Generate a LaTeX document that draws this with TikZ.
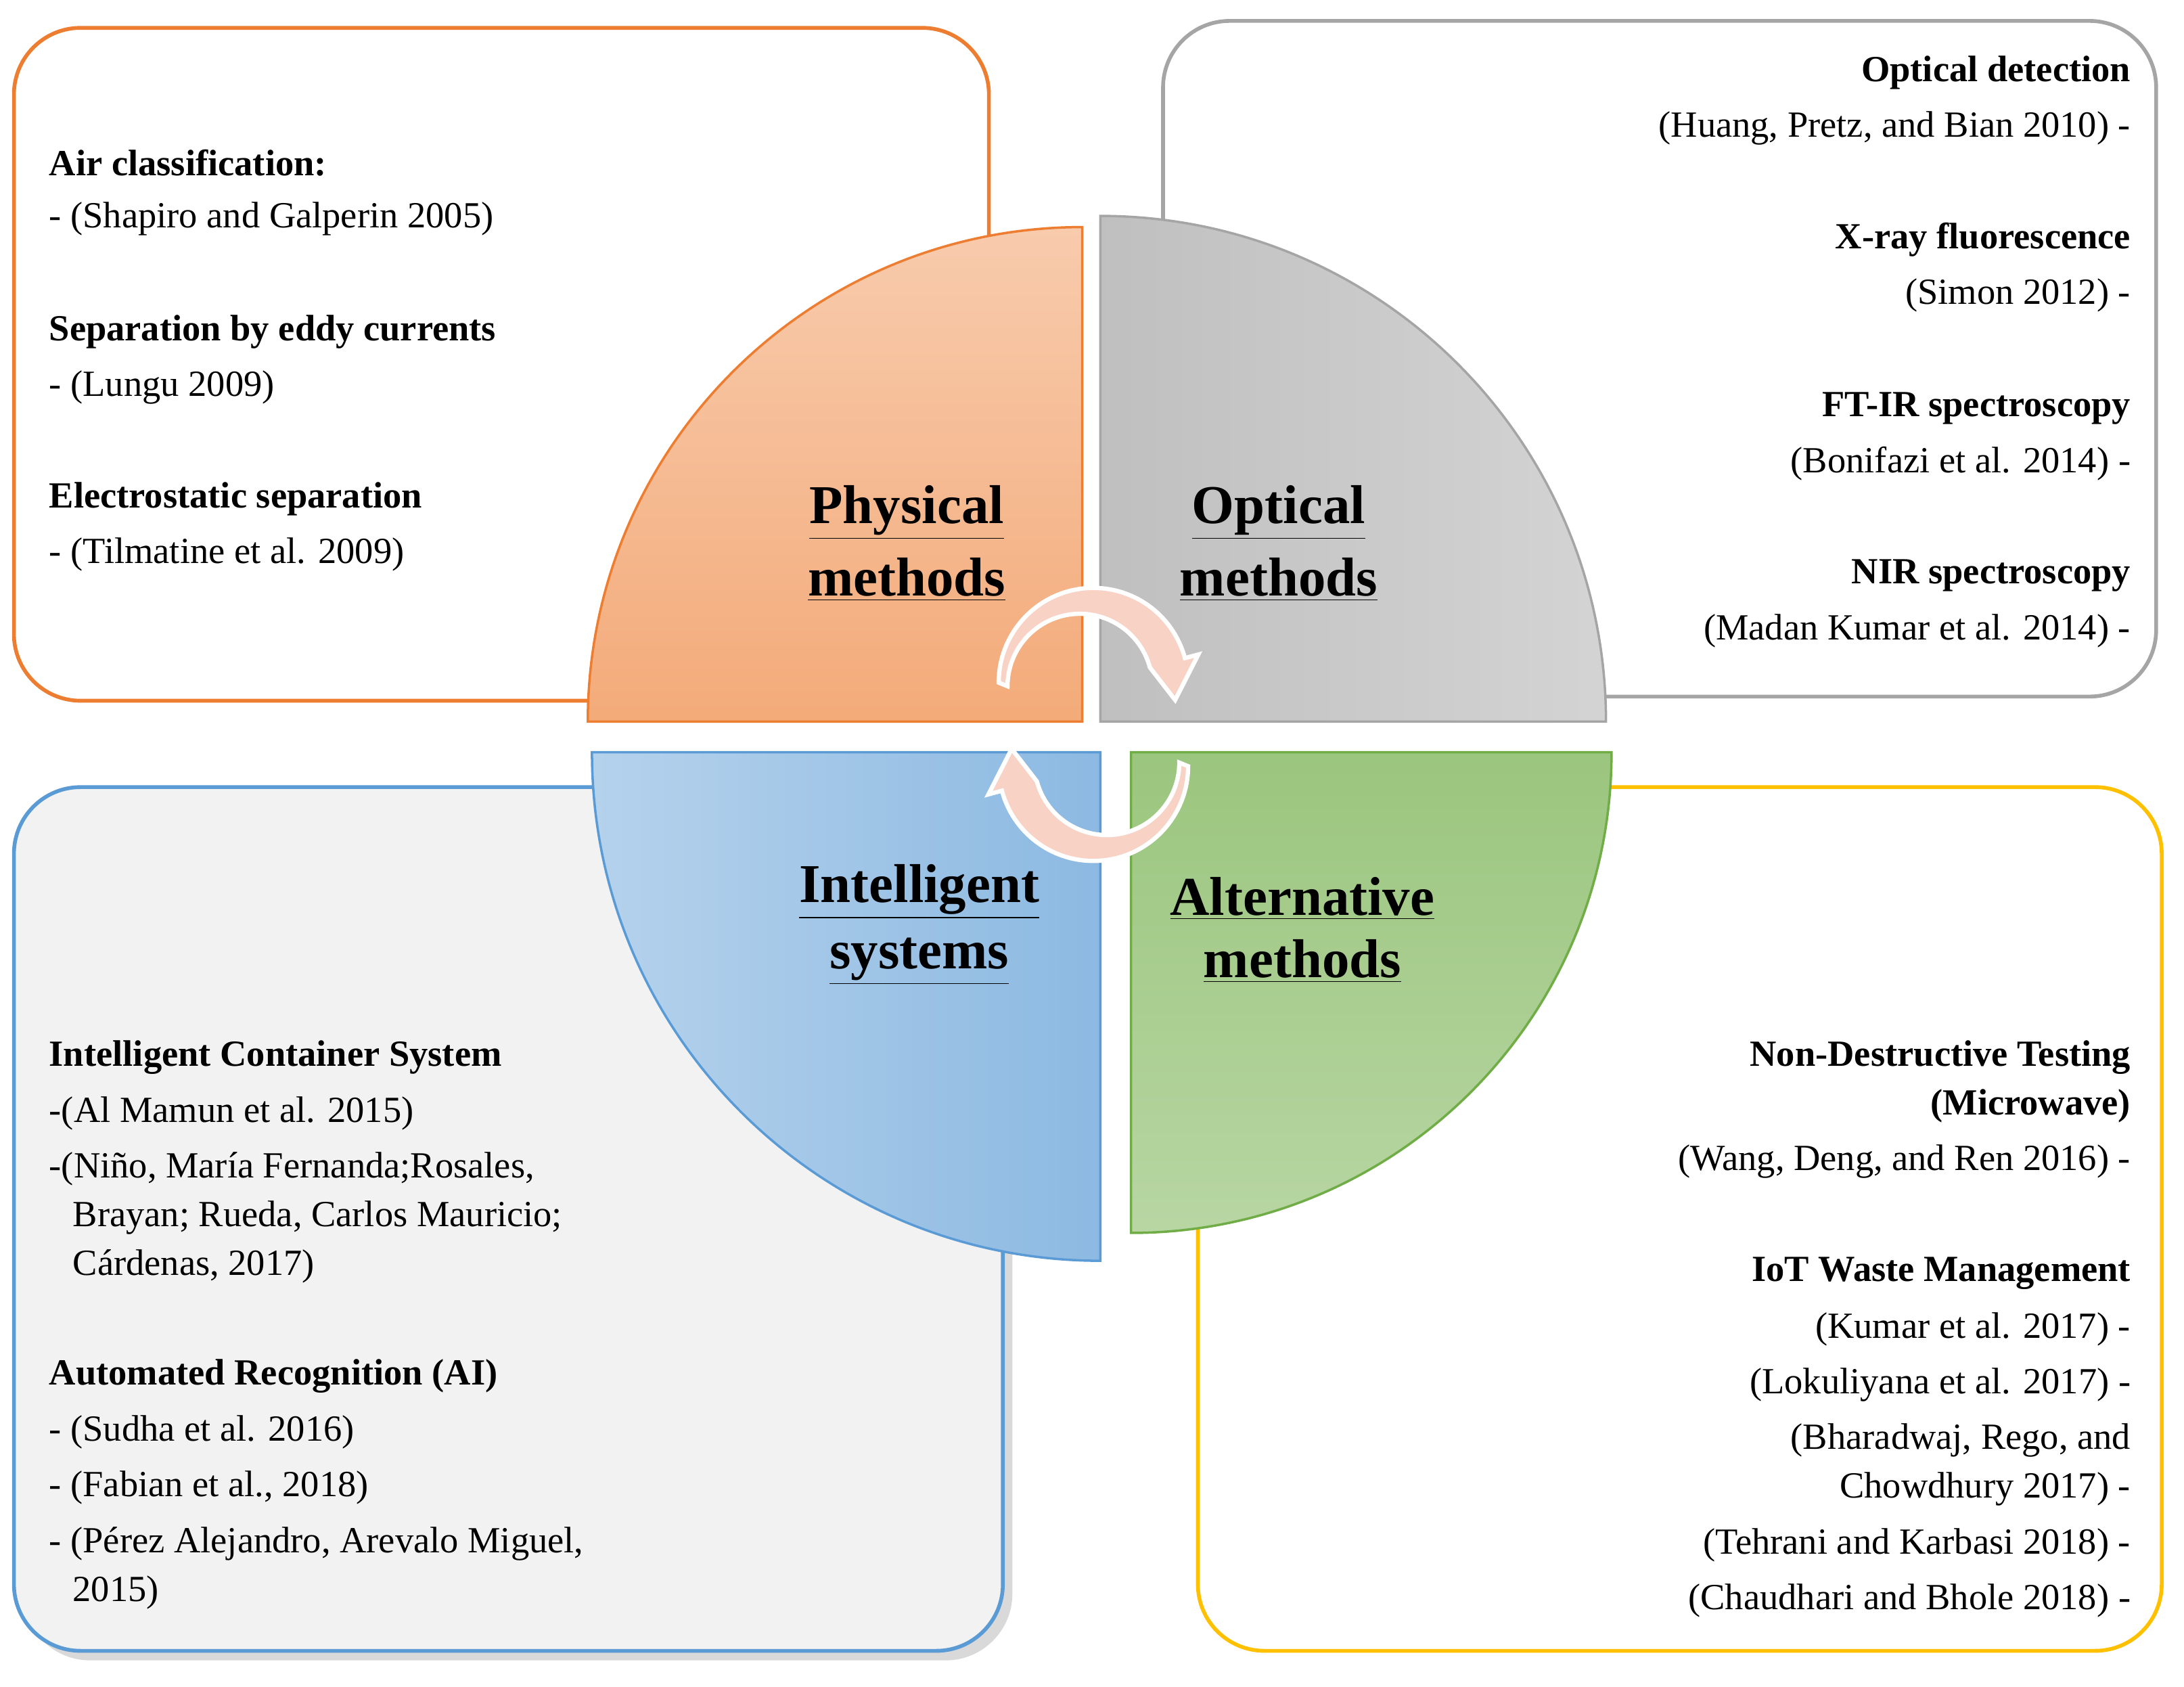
\documentclass[tikz,border=0pt]{standalone}
\usepackage{fontspec}
\setmainfont{Liberation Serif}
\usetikzlibrary{shadows,calc}
\definecolor{orb}{HTML}{ED7D31}
\definecolor{grb}{HTML}{A5A5A5}
\definecolor{blb}{HTML}{5B9BD5}
\definecolor{yeb}{HTML}{FFC000}
\definecolor{grnb}{HTML}{70AD47}
\definecolor{pk}{HTML}{F8D2C5}
\begin{document}
\begin{tikzpicture}[x={0.020587cm},y={-0.020587cm},
 box/.style={rounded corners=28pt,line width=1.6pt},
 tx/.style={font=\fontsize{15.5}{18}\selectfont,inner sep=0pt},
 hd/.style={tx,font=\fontsize{15.5}{18}\selectfont\bfseries},
 ttl/.style={font=\fontsize{23}{26}\selectfont\bfseries,inner sep=0pt},
 arr/.style={fill=pk,draw=white,line width=1.8pt}]
\useasboundingbox (0,0) rectangle (1568,1210.5);
% boxes
\draw[box,orb] (10,20) rectangle (710,503);
\draw[box,grb] (835,15) rectangle (1548,500);
\draw[box,blb,fill=black!5,drop shadow={shadow xshift=4pt,shadow yshift=-4pt,opacity=0.3}] (10,565) rectangle (720,1185);
\draw[box,yeb] (860,565) rectangle (1552,1185);
% quarters
\draw[orb,line width=1pt,top color=orb!40,bottom color=orb!65] (777,518) -- (422,518) arc[start angle=180,end angle=270,radius=355] -- cycle;
\draw[grb,line width=1pt,left color=black!25,right color=black!17] (790,518) -- (790,155) arc[start angle=270,end angle=360,radius=363] -- cycle;
\draw[blb,line width=1pt,left color=blb!45,right color=blb!70] (790,540) -- (425,540) arc[start angle=180,end angle=90,radius=365] -- cycle;
\draw[grnb,line width=1pt,top color=grnb!70,bottom color=grnb!50] (812,540) -- (1157,540) arc[start angle=0,end angle=90,radius=345] -- cycle;
% titles
\node[ttl] (p1) at (651,368) {\underline{Physical}};
\node[ttl] (p2) at (651,416) {\underline{methods}};
\node[ttl] (o1) at (918,368) {\underline{Optical}};
\node[ttl] (o2) at (918,416) {\underline{methods}};
\node[ttl] (i1) at (660,640) {\underline{Intelligent}};
\node[ttl] (i2) at (660,690) {\underline{systems}};
\node[ttl] (a1) at (935,645) {\underline{Alternative}};
\node[ttl] (a2) at (935,690) {\underline{methods}};
% arrows
\draw[arr] (785,490) ++(180:68) arc[start angle=180,end angle=345,radius=68]
  -- ($(785,490)+(345:78)$) -- ($(785,490)+(12:60)$) -- ($(785,490)+(345:42)$)
  arc[start angle=345,end angle=180,radius=52] -- cycle;
\draw[arr] (785,550) ++(0:68) arc[start angle=0,end angle=165,radius=68]
  -- ($(785,550)+(165:78)$) -- ($(785,550)+(192:60)$) -- ($(785,550)+(165:42)$)
  arc[start angle=165,end angle=0,radius=52] -- cycle;
% orange texts
\node[hd,anchor=west] (t1) at (35,117) {Air classification:};
\node[tx,anchor=west] (t2) at (35,157) {- (Shapiro and Galperin 2005)};
\node[hd,anchor=west] (t3) at (35,238) {Separation by eddy currents};
\node[tx,anchor=west] (t4) at (35,278) {- (Lungu 2009)};
\node[hd,anchor=west] (t5) at (35,358) {Electrostatic separation};
\node[tx,anchor=west] (t6) at (35,398) {- (Tilmatine et al. 2009)};
% grey texts
\node[hd,anchor=east] (g1) at (1530,52) {Optical detection};
\node[tx,anchor=east] (g2) at (1530,92) {(Huang, Pretz, and Bian 2010) -};
\node[hd,anchor=east] (g3) at (1530,172) {X-ray fluorescence};
\node[tx,anchor=east] (g4) at (1530,212) {(Simon 2012) -};
\node[hd,anchor=east] (g5) at (1530,293) {FT-IR spectroscopy};
\node[tx,anchor=east] (g6) at (1530,333) {(Bonifazi et al. 2014) -};
\node[hd,anchor=east] (g7) at (1530,413) {NIR spectroscopy};
\node[tx,anchor=east] (g8) at (1530,453) {(Madan Kumar et al. 2014) -};
% blue texts
\node[hd,anchor=west] (b1) at (35,759) {Intelligent Container System};
\node[tx,anchor=west] (b2) at (35,799) {-(Al Mamun et al. 2015)};
\node[tx,anchor=west] (b3) at (35,839) {-(Niño, María Fernanda;Rosales,};
\node[tx,anchor=west] (b4) at (52,874) {Brayan; Rueda, Carlos Mauricio;};
\node[tx,anchor=west] (b5) at (52,909) {Cárdenas, 2017)};
\node[hd,anchor=west] (b6) at (35,988) {Automated Recognition (AI)};
\node[tx,anchor=west] (b7) at (35,1028) {- (Sudha et al. 2016)};
\node[tx,anchor=west] (b8) at (35,1068) {- (Fabian et al., 2018)};
\node[tx,anchor=west] (b9) at (35,1108) {- (Pérez Alejandro, Arevalo Miguel,};
\node[tx,anchor=west] (b10) at (52,1143) {2015)};
% yellow texts
\node[hd,anchor=east] (y1) at (1530,759) {Non-Destructive Testing};
\node[hd,anchor=east] (y2) at (1530,794) {(Microwave)};
\node[tx,anchor=east] (y3) at (1530,834) {(Wang, Deng, and Ren 2016) -};
\node[hd,anchor=east] (y4) at (1530,914) {IoT Waste Management};
\node[tx,anchor=east] (y5) at (1530,954) {(Kumar et al. 2017) -};
\node[tx,anchor=east] (y6) at (1530,994) {(Lokuliyana et al. 2017) -};
\node[tx,anchor=east] (y7) at (1530,1034) {(Bharadwaj, Rego, and};
\node[tx,anchor=east] (y8) at (1530,1069) {Chowdhury 2017) -};
\node[tx,anchor=east] (y9) at (1530,1109) {(Tehrani and Karbasi 2018) -};
\node[tx,anchor=east] (y10) at (1530,1149) {(Chaudhari and Bhole 2018) -};
\end{tikzpicture}
\end{document}
